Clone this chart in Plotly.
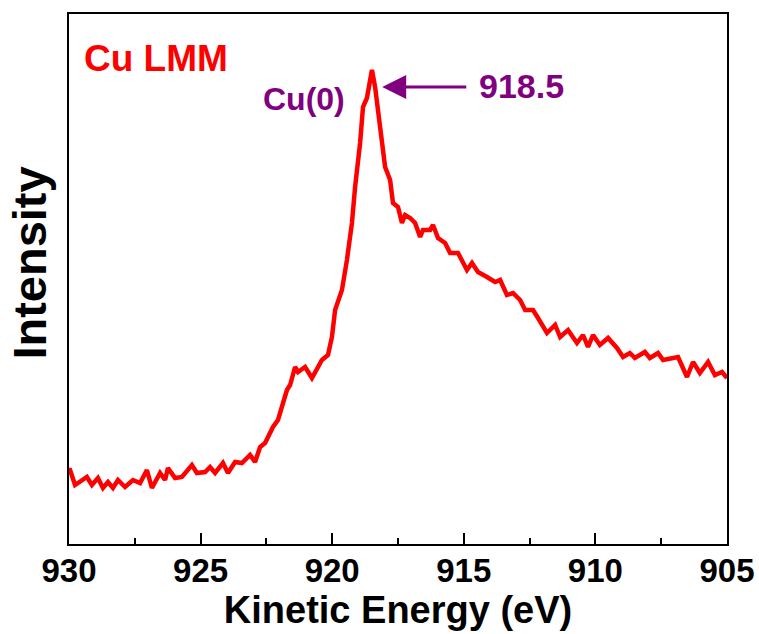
import plotly.graph_objects as go

# Kinetic energy (eV) and intensity (a.u.)
energy = [930.00, 929.96, 929.77, 929.58, 929.32, 929.13, 928.90, 928.71, 928.52, 928.33,
          928.14, 927.87, 927.57, 927.30, 927.04, 926.85, 926.54, 926.35, 926.24, 925.97,
          925.71, 925.33, 925.14, 924.83, 924.64, 924.45, 924.15, 923.96, 923.69, 923.43,
          923.12, 922.93, 922.74, 922.55, 922.36, 922.25, 922.06, 921.91, 921.72, 921.60,
          921.41, 921.30, 921.03, 920.77, 920.58, 920.39, 920.16, 920.01, 919.89, 919.78,
          919.63, 919.44, 919.25, 919.13, 918.94, 918.83, 918.68, 918.49, 918.37, 918.18,
          917.99, 917.80, 917.69, 917.50, 917.35, 917.23, 917.04, 916.85, 916.66, 916.55,
          916.28, 916.17, 915.98, 915.71, 915.52, 915.22, 914.88, 914.69, 914.46, 914.12,
          913.81, 913.62, 913.36, 913.13, 912.86, 912.67, 912.37, 912.18, 912.10, 911.84,
          911.53, 911.34, 911.04, 910.70, 910.47, 910.28, 910.09, 909.83, 909.52, 909.18,
          908.95, 908.69, 908.50, 908.12, 907.93, 907.62, 907.43, 907.09, 906.86, 906.52,
          906.29, 906.03, 905.72, 905.46, 905.19, 905.00]
intensity = [74, 74, 59, 62, 67, 59, 66, 56, 62, 56,
             64, 57, 64, 61, 74, 56, 71, 64, 76, 66,
             67, 79, 71, 72, 77, 71, 81, 71, 82, 81,
             89, 82, 97, 101, 111, 117, 124, 137, 154, 159,
             177, 172, 177, 166, 176, 184, 189, 207, 234, 244,
             254, 284, 321, 357, 401, 437, 446, 474, 457, 417,
             377, 364, 341, 337, 321, 329, 326, 321, 307, 314,
             314, 319, 306, 301, 291, 291, 274, 281, 272, 267,
             262, 264, 249, 251, 244, 234, 234, 226, 222, 211,
             219, 207, 214, 201, 209, 197, 209, 199, 206, 196,
             187, 191, 186, 192, 186, 191, 184, 186, 187, 167,
             182, 171, 182, 169, 172, 166]

x_ticks = [930, 925, 920, 915, 910, 905]
peak_energy = 918.5

FONT = "Arial, Liberation Sans, sans-serif"
RED = "#ff0000"
PURPLE = "#800080"

fig = go.Figure()
fig.add_trace(go.Scatter(x=energy, y=intensity, mode="lines",
                         line=dict(color=RED, width=4.5), showlegend=False,
                         hoverinfo="skip"))

fig.update_layout(
    width=759, height=634,
    margin=dict(l=69, r=32, t=14, b=90),
    paper_bgcolor="white", plot_bgcolor="white",
    font=dict(family=FONT, color="black"),
    xaxis=dict(
        range=[930, 905], tickvals=x_ticks, ticktext=[str(t) for t in x_ticks],
        automargin=False,
        showgrid=False, zeroline=False,
        showline=True, linecolor="black", linewidth=2, mirror=True,
        ticks="inside", ticklen=11, tickwidth=2, tickcolor="black",
        minor=dict(ticks="inside", ticklen=6, tickwidth=2, tickcolor="black", dtick=2.5, tick0=930),
        tickfont=dict(family=FONT, size=33, weight="bold", color="black"),
        ticklabelstandoff=-4,
        title=dict(text="Kinetic Energy (eV)",
                   font=dict(family=FONT, size=38, weight="bold", color="black"),
                   standoff=5),
    ),
    yaxis=dict(
        range=[0, 530], showticklabels=False, ticks="",
        automargin=False,
        showgrid=False, zeroline=False,
        showline=True, linecolor="black", linewidth=2, mirror=True,
    ),
    annotations=[
        dict(text="Intensity", xref="paper", yref="paper", x=-0.06, y=0.53,
             textangle=-90, showarrow=False, xanchor="center", yanchor="middle",
             font=dict(family=FONT, size=47, weight="bold", color="black")),
        dict(text="Cu LMM", xref="x", yref="y", x=929.5, y=486,
             showarrow=False, xanchor="left", yanchor="middle",
             font=dict(family=FONT, size=37, weight="bold", color=RED)),
        dict(text="Cu(0)", xref="x", yref="y", x=919.45, y=445,
             showarrow=False, xanchor="right", yanchor="middle",
             font=dict(family=FONT, size=32, weight="bold", color=PURPLE)),
        dict(text="", xref="x", yref="y", x=918.1, y=457,
             ax=914.85, ay=457, axref="x", ayref="y",
             showarrow=True, arrowhead=2, arrowsize=1.6, arrowwidth=3,
             arrowcolor=PURPLE),
        dict(text=str(peak_energy), xref="x", yref="y", x=914.5, y=458,
             showarrow=False, xanchor="left", yanchor="middle",
             font=dict(family=FONT, size=34, weight="bold", color=PURPLE)),
    ],
)

fig.write_html("out.html")
